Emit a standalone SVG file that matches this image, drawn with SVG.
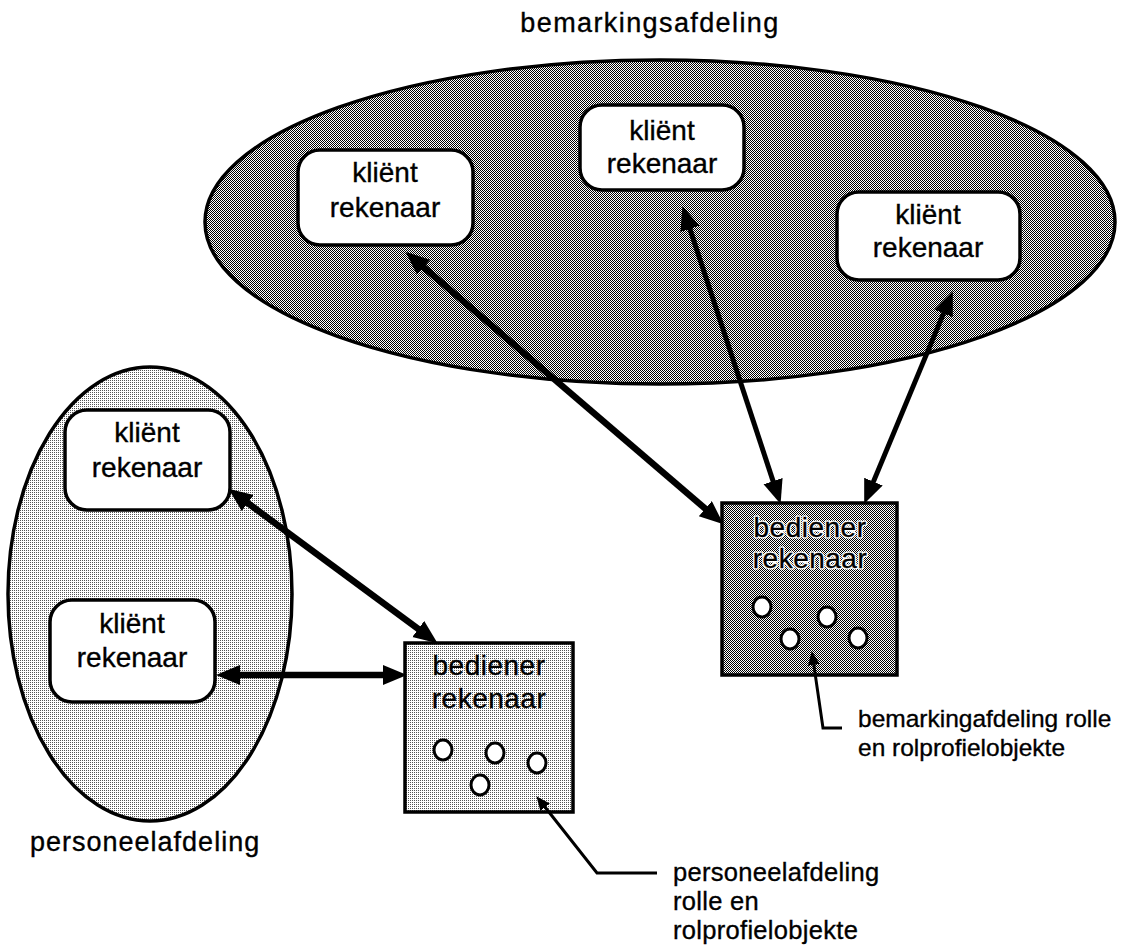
<svg xmlns="http://www.w3.org/2000/svg" width="1146" height="950" viewBox="0 0 1146 950">
  <defs>
    <!-- dense checker stipple -->
    <pattern id="stippleDark" patternUnits="userSpaceOnUse" x="0" y="0" width="2" height="2">
      <rect width="2" height="2" fill="#ffffff"/>
      <rect x="0" y="0" width="1" height="1" fill="#000000" shape-rendering="crispEdges"/>
      <rect x="1" y="1" width="1" height="1" fill="#000000" shape-rendering="crispEdges"/>
    </pattern>
    <!-- sparse dot stipple -->
    <pattern id="stippleLight" patternUnits="userSpaceOnUse" x="0" y="0" width="2" height="2">
      <rect width="2" height="2" fill="#ffffff"/>
      <rect x="0" y="0" width="1" height="1" fill="#555555" shape-rendering="crispEdges"/>
    </pattern>
    <marker id="head" markerUnits="userSpaceOnUse" markerWidth="26" markerHeight="22" refX="10" refY="10" orient="auto-start-reverse">
      <path d="M0,0 L24,10 L0,20 Z" fill="#000"/>
    </marker>
    <marker id="pointer" markerUnits="userSpaceOnUse" markerWidth="16" markerHeight="14" refX="5" refY="6" orient="auto-start-reverse">
      <path d="M0,0 L14,6 L0,12 Z" fill="#000"/>
    </marker>
    <style>
      .group { stroke: #000; stroke-width: 3.5; }
      .client { fill: #fff; stroke: #000; stroke-width: 3.5; }
      .server { stroke: #000; stroke-width: 3.5; }
      .obj { fill: #fff; stroke: #000; stroke-width: 3; }
      text { font-family: "Liberation Sans", Arial, Helvetica, sans-serif; fill: #000; stroke: #000; stroke-width: 0.35px; }
      .lbl { font-size: 27px; letter-spacing: 1px; }
      .nodeText { font-size: 28px; text-anchor: middle; }
      .srvText { font-size: 28px; text-anchor: middle; letter-spacing: 0.5px; }
      text.halo { fill: #fff; stroke: #fff; stroke-width: 3px; stroke-linejoin: round; }
      .noteB { font-size: 24.5px; }
      .noteP { font-size: 25.5px; letter-spacing: 0.3px; }
      .link { fill: none; stroke: #000; stroke-width: 6.5; marker-start: url(#head); marker-end: url(#head); }
      .link.thin { stroke-width: 5; }
      .callout { fill: none; stroke: #000; stroke-width: 3; marker-start: url(#pointer); }
    </style>
  </defs>

  <rect width="1146" height="950" fill="#ffffff"/>

  <!-- marketing department -->
  <g id="bemarkingsafdeling">
    <ellipse class="group" cx="660" cy="222" rx="455" ry="162" fill="url(#stippleDark)"/>
    <text class="lbl" x="650" y="32" text-anchor="middle" style="letter-spacing:1.4px">bemarkingsafdeling</text>
  </g>

  <!-- personnel department -->
  <g id="personeelafdeling">
    <ellipse class="group" cx="150" cy="594" rx="142" ry="227" fill="url(#stippleLight)"/>
    <text class="lbl" x="30" y="851">personeelafdeling</text>
  </g>

  <g id="client-b1">
    <rect class="client" x="298" y="150" width="175" height="95" rx="22"/>
    <text class="nodeText" x="385" y="182">kliënt</text>
    <text class="nodeText" x="385" y="217">rekenaar</text>
  </g>
  <g id="client-b2">
    <rect class="client" x="580" y="105" width="164" height="85" rx="22"/>
    <text class="nodeText" x="662" y="140">kliënt</text>
    <text class="nodeText" x="662" y="173">rekenaar</text>
  </g>
  <g id="client-b3">
    <rect class="client" x="837" y="192" width="183" height="88" rx="22"/>
    <text class="nodeText" x="928" y="224">kliënt</text>
    <text class="nodeText" x="928" y="257">rekenaar</text>
  </g>
  <g id="client-p1">
    <rect class="client" x="65" y="410" width="165" height="100" rx="22"/>
    <text class="nodeText" x="147" y="442">kliënt</text>
    <text class="nodeText" x="147" y="477">rekenaar</text>
  </g>
  <g id="client-p2">
    <rect class="client" x="50" y="600" width="165" height="102" rx="22"/>
    <text class="nodeText" x="132" y="633">kliënt</text>
    <text class="nodeText" x="132" y="667">rekenaar</text>
  </g>

  <!-- marketing server with role objects; white underlay keeps the caption legible on the dense stipple -->
  <g id="server-b">
    <rect class="server" x="722" y="503" width="175" height="172" fill="url(#stippleDark)"/>
    <text class="srvText halo" x="810" y="537" aria-hidden="true">bediener</text>
    <text class="srvText halo" x="810" y="568" aria-hidden="true">rekenaar</text>
    <text class="srvText" x="810" y="537">bediener</text>
    <text class="srvText" x="810" y="568">rekenaar</text>
    <ellipse class="obj" cx="762" cy="607" rx="9" ry="10"/>
    <ellipse class="obj" cx="827" cy="617" rx="9" ry="10"/>
    <ellipse class="obj" cx="790" cy="639" rx="9" ry="10"/>
    <ellipse class="obj" cx="858" cy="638" rx="9" ry="10"/>
  </g>

  <!-- personnel server with role objects -->
  <g id="server-p">
    <rect class="server" x="405" y="643" width="168" height="169" fill="url(#stippleLight)"/>
    <text class="srvText" x="489" y="675">bediener</text>
    <text class="srvText" x="489" y="708">rekenaar</text>
    <ellipse class="obj" cx="443" cy="750" rx="9" ry="10"/>
    <ellipse class="obj" cx="495" cy="753" rx="9" ry="10"/>
    <ellipse class="obj" cx="480" cy="785" rx="9" ry="10"/>
    <ellipse class="obj" cx="537" cy="763" rx="9" ry="10"/>
  </g>

  <!-- notes -->
  <g id="note-b">
    <text class="noteB" x="858" y="727">bemarkingafdeling rolle</text>
    <text class="noteB" x="858" y="756">en rolprofielobjekte</text>
  </g>
  <g id="note-p">
    <text class="noteP" x="673" y="881">personeelafdeling</text>
    <text class="noteP" x="673" y="910">rolle en</text>
    <text class="noteP" x="673" y="939">rolprofielobjekte</text>
  </g>

  <!-- connectors -->
  <g id="connectors">
    <line class="link" x1="416.1" y1="260.8" x2="712.9" y2="515.2"/>
    <line class="link thin" x1="686.8" y1="219.4" x2="776.2" y2="490.6"/>
    <line class="link thin" x1="947.4" y1="304.1" x2="869.6" y2="490.9"/>
    <line class="link" x1="239.7" y1="497.1" x2="426.3" y2="634.9"/>
    <line class="link" x1="230" y1="675" x2="393" y2="675"/>
    <polyline class="callout" points="813.1,659.9 823,728 842,728"/>
    <polyline class="callout" points="542,803.3 597,873 657,873"/>
  </g>
</svg>
